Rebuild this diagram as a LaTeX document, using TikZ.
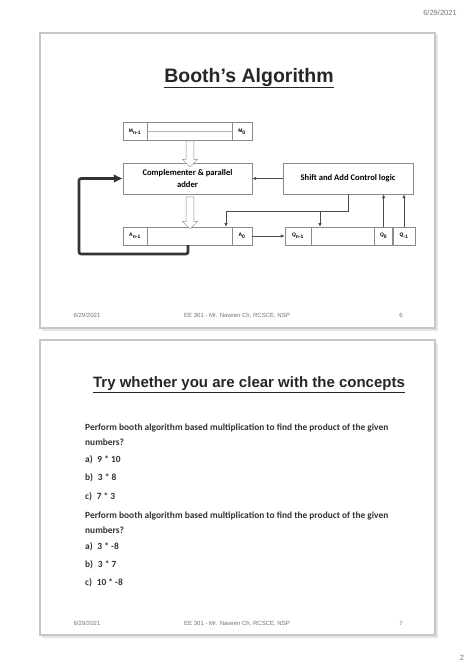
\documentclass[tikz,border=0pt]{standalone}
\usepackage{fontspec}
\setmainfont{Liberation Sans}
\newfontfamily\bodyfont{Carlito}
\usetikzlibrary{shapes.arrows,arrows.meta}

\begin{document}
\begin{tikzpicture}[x=1pt,y=-1pt]
	\tikzstyle{slide} = [draw=black!22, line width=1.6pt, fill=white]
	\tikzstyle{slideshadow} = [fill=black!10]
	\tikzstyle{reg} = [draw=black!45, fill=white, minimum width=129pt, minimum height=18pt, inner sep=0]
	\tikzstyle{cell} = [draw=black!45, minimum height=18pt, inner sep=0, font=\fontsize{5}{6}\selectfont\bfseries]
	\tikzstyle{block} = [draw=black!45, fill=white, minimum height=31pt, inner sep=1pt, align=center, font=\bodyfont\fontsize{8.6}{12}\selectfont\bfseries]
	\tikzstyle{hollow} = [single arrow, draw=black!45, fill=white, rotate=-90, minimum height=26pt, minimum width=15pt, inner sep=3pt, single arrow head extend=3pt]
	\tikzstyle{line} = [draw=black!70, line width=0.8pt, -{Latex[length=4pt,width=3.5pt]}]
	\tikzstyle{thickline} = [draw=black!80, line width=2.6pt, rounded corners=2pt, -{Latex[length=9pt,width=9pt]}]
	\tikzstyle{foot} = [anchor=base, text=black!55, font=\fontsize{6}{7}\selectfont]
	\tikzstyle{body} = [anchor=west, inner sep=0, text=black!80, font=\bodyfont\fontsize{9.4}{15}\selectfont\bfseries]
	\useasboundingbox (0,0) rectangle (474,670);
	\fill[white] (0,0) rectangle (474,670);

	% page header and number
	\node[foot, font=\fontsize{7.5}{8}\selectfont] (date) at (440,15) {6/29/2021};
	\node[foot, font=\fontsize{7.5}{8}\selectfont] (pageno) at (462,660) {2};

	% slide 6
	\fill[slideshadow] (42,35) rectangle (438,331);
	\draw[slide] (40,33) rectangle (435,328);
	\node[font=\fontsize{19.5}{22}\selectfont\bfseries, text=black!85] (title1) at (249,78) {\underline{Booth's Algorithm}};

	\node[reg] (mreg) at (187.5,131.5) {};
	\node[cell, minimum width=24pt, anchor=west] (mn) at (mreg.west) {M\textsubscript{n-1}};
	\node[cell, minimum width=20pt, anchor=east] (m0) at (mreg.east) {M\textsubscript{0}};
	\draw[black!30] (mn.east) -- (m0.west);

	\node[block, minimum width=129pt] (adder) at (187.5,178.5) {Complementer \& parallel\\adder};
	\node[block, minimum width=130pt] (ctrl) at (348,178.5) {Shift and Add Control logic};

	\node[reg] (areg) at (187.5,236) {};
	\node[cell, minimum width=24pt, anchor=west] (an) at (areg.west) {A\textsubscript{n-1}};
	\node[cell, minimum width=20pt, anchor=east] (a0) at (areg.east) {A\textsubscript{0}};

	\node[reg, minimum width=130pt] (qreg) at (350,236) {};
	\node[cell, minimum width=26pt, anchor=west] (qn) at (qreg.west) {Q\textsubscript{n-1}};
	\node[cell, minimum width=22pt, anchor=east] (qm) at (qreg.east) {Q\textsubscript{-1}};
	\node[cell, minimum width=18pt, anchor=east] (q0) at (qm.west) {Q\textsubscript{0}};

	\node[hollow] (arr1) at (190,152) {};
	\node[hollow, minimum height=32pt] (arr2) at (190,211) {};

	\coordinate (cout) at (348,194);
	\coordinate (ain) at (226,227);
	\coordinate (qin) at (320,227);
	\coordinate (fb) at (188,245);
	\draw[line] (ctrl.west) -- (adder.east);
	\draw[line] (a0.east) -- (qn.west);
	\draw[line] (cout) -- (348,211) -| (ain);
	\draw[line] (320,211) -- (qin);
	\draw[line] (q0.north) -- (q0.north |- ctrl.south);
	\draw[line] (qm.north) -- (qm.north |- ctrl.south);
	\draw[thickline] (fb) -- (188,254) -| (79,178.5) -- (adder.west);

	\node[foot] (date1) at (87,317) {6/29/2021};
	\node[foot] (course1) at (237,317) {EE 301 - Mr. Naveen Ch, RCSCE, NSP};
	\node[foot] (num1) at (401,317) {6};

	% slide 7
	\fill[slideshadow] (42,343) rectangle (438,638);
	\draw[slide] (40,340) rectangle (435,635);
	\node[font=\fontsize{15}{17}\selectfont\bfseries, text=black!85] (title2) at (249,385) {\underline{Try whether you are clear with the concepts}};

	\node[body, align=left] (qa) at (85,434.5) {Perform booth algorithm based multiplication to find the product of the given\\numbers?};
	\node[body] (qa1) at (85,460) {a)\enspace 9 * 10};
	\node[body] (qa2) at (85,478) {b)\enspace 3 * 8};
	\node[body] (qa3) at (85,497) {c)\enspace 7 * 3};
	\node[body, align=left] (qb) at (85,522.5) {Perform booth algorithm based multiplication to find the product of the given\\numbers?};
	\node[body] (qb1) at (85,547) {a)\enspace 3 * -8};
	\node[body] (qb2) at (85,565) {b)\enspace 3 * 7};
	\node[body] (qb3) at (85,583) {c)\enspace 10 * -8};

	\node[foot] (date2) at (87,625) {6/29/2021};
	\node[foot] (course2) at (237,625) {EE 301 - Mr. Naveen Ch, RCSCE, NSP};
	\node[foot] (num2) at (401,625) {7};
\end{tikzpicture}
\end{document}
